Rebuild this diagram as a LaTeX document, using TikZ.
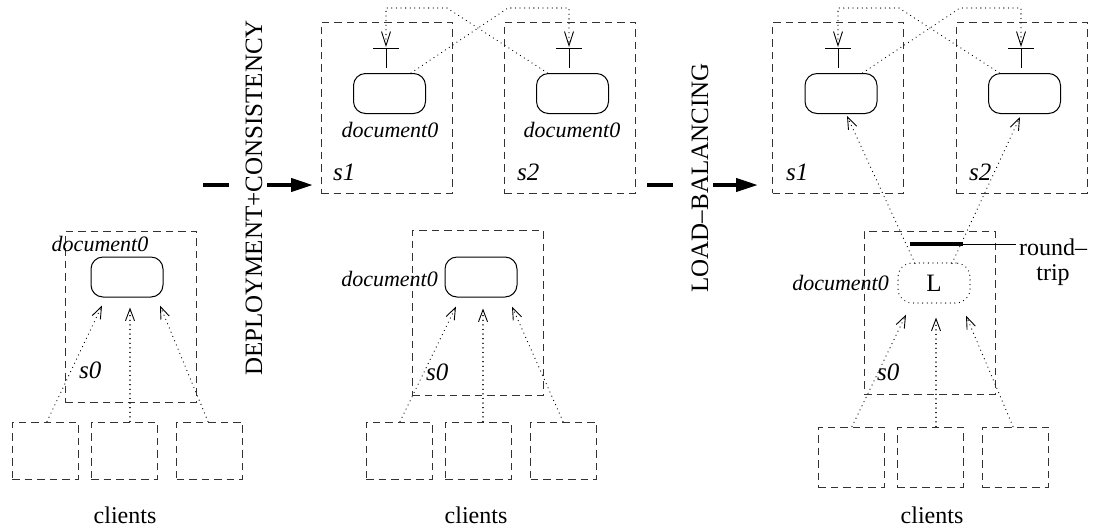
\documentclass[tikz,border=0pt]{standalone}
\usepackage{fontspec}
\setmainfont{Liberation Serif}
\usetikzlibrary{arrows.meta,calc}
\newcommand\myfs[1]{\fontsize{#1}{#1}\selectfont}
\begin{document}
\begin{tikzpicture}[x=1pt,y=-1pt,
  srv/.style={draw=black!80, line width=1pt, dash pattern=on 7.5pt off 5pt, inner sep=0pt, minimum width=131pt},
  cli/.style={draw=black!80, line width=1pt, dash pattern=on 7.5pt off 5pt, inner sep=0pt, minimum width=66pt},
  doc/.style={draw, line width=1pt, rounded corners=12pt, minimum width=72pt, minimum height=40pt, inner sep=0pt},
  lbox/.style={draw, line width=1.2pt, line cap=round, dash pattern=on 0.1pt off 4.5pt, rounded corners=14pt, minimum width=72pt, minimum height=40pt, inner sep=0pt, font=\myfs{25}},
  conn/.style={line width=1.2pt, line cap=round, dash pattern=on 0.1pt off 4.5pt, -{Straight Barb[length=12pt,width=9pt,line width=0.9pt,line cap=butt]}},
  cross/.style={line width=1.2pt, line cap=round, dash pattern=on 0.1pt off 4.5pt, -{Straight Barb[length=14pt,width=9pt,line width=0.9pt,line cap=butt]}},
  port/.style={line width=1pt},
  thickbar/.style={line width=4pt},
  bigarrow/.style={line width=4pt, -{Triangle[length=22pt,width=13pt]}},
  doclabel/.style={font=\myfs{22}\itshape, inner sep=0pt},
  slabel/.style={font=\myfs{25}\itshape, inner sep=0pt, anchor=base west},
  clilabel/.style={font=\myfs{24}, inner sep=0pt},
  steplabel/.style={font=\myfs{25}, inner sep=0pt, rotate=90}
]
\useasboundingbox (0,0) rectangle (1099,531);

% ================= Panel 1 =================
\node[srv, minimum height=171pt] (s0a) at (130.5,316.5) {};
\node[doc] (d0a) at (127,277) {};
\node[doclabel, anchor=base] (l0a) at (100,251) {document0};
\node[slabel] (n0a) at (79,378) {s0};
\node[cli, minimum height=57pt] (c1a) at (45,450.5) {};
\node[cli, minimum height=57pt] (c1b) at (124,450.5) {};
\node[cli, minimum height=57pt] (c1c) at (209.5,450.5) {};
\node[clilabel] (cl1) at (125,515) {clients};
\draw[conn] ([xshift=2pt]c1a.north) -- ([xshift=-25pt,yshift=-8pt]d0a.south);
\draw[conn] ([xshift=6pt]c1b.north) -- ([xshift=3pt,yshift=-10pt]d0a.south);
\draw[conn] ([xshift=-1.5pt]c1c.north) -- ([xshift=33pt,yshift=-8pt]d0a.south);

% transition 1
\coordinate (m1a) at (203,185);
\coordinate (m1b) at (229,185);
\coordinate (m1c) at (267,185);
\coordinate (m1d) at (313,185);
\draw[thickbar] (m1a) -- (m1b);
\draw[bigarrow] (m1c) -- (m1d);
\node[steplabel] (t1) at (254,198) {DEPLOYMENT+CONSISTENCY};

% ================= Panel 2 =================
\node[srv, minimum height=171pt] (s1b) at (386.5,107.5) {};
\node[srv, minimum height=171pt] (s2b) at (569.5,107.5) {};
\node[doc] (d1b) at (389.5,93.5) {};
\node[doc] (d2b) at (572.5,93.5) {};
\node[doclabel, anchor=base] (l1b) at (390,137) {document0};
\node[doclabel, anchor=base] (l2b) at (572,137) {document0};
\node[slabel] (n1b) at (333,180) {s1};
\node[slabel] (n2b) at (517,180) {s2};
\coordinate (p1b) at (386,48);
\coordinate (p2b) at (569,48);
\draw[port] ([xshift=-13pt]p1b) -- ([xshift=13pt]p1b);
\draw[port] (p1b) -- ([yshift=-20pt]p1b);
\draw[port] ([xshift=-13pt]p2b) -- ([xshift=13pt]p2b);
\draw[port] (p2b) -- ([yshift=-20pt]p2b);
\coordinate (kAb) at (508,8);
\coordinate (kBb) at (447,8);
\draw[cross] ([xshift=-15pt]d1b.north east) -- (kAb) -| ([yshift=1pt]p2b);
\draw[cross] ([xshift=11.5pt]d2b.north west) -- (kBb) -| ([yshift=1pt]p1b);

\node[srv, minimum height=165pt] (s0b) at (477.5,312.5) {};
\node[doc] (d0b) at (481,277) {};
\node[doclabel, anchor=east] (l0b) at (438,279) {document0};
\node[slabel] (n0b) at (426,380) {s0};
\node[cli, minimum height=57pt] (c2a) at (399,450.5) {};
\node[cli, minimum height=57pt] (c2b) at (478,450.5) {};
\node[cli, minimum height=57pt] (c2c) at (563.5,450.5) {};
\node[clilabel] (cl2) at (476,515) {clients};
\draw[conn] ([xshift=1pt]c2a.north) -- ([xshift=-25pt,yshift=-9pt]d0b.south);
\draw[conn] ([xshift=5pt]c2b.north) -- ([xshift=2pt,yshift=-11pt]d0b.south);
\draw[conn] ([xshift=-0.5pt]c2c.north) -- ([xshift=31pt,yshift=-9pt]d0b.south);

% transition 2
\coordinate (m2a) at (647,185);
\coordinate (m2b) at (673,185);
\coordinate (m2c) at (713,185);
\coordinate (m2d) at (758,185);
\draw[thickbar] (m2a) -- (m2b);
\draw[bigarrow] (m2c) -- (m2d);
\node[steplabel] (t2) at (700,178) {LOAD–BALANCING};

% ================= Panel 3 =================
\node[srv, minimum height=171pt] (s1c) at (838,107.5) {};
\node[srv, minimum height=171pt] (s2c) at (1021.5,107.5) {};
\node[doc] (d1c) at (841,93.5) {};
\node[doc] (d2c) at (1024.5,93.5) {};
\node[slabel] (n1c) at (786,180) {s1};
\node[slabel] (n2c) at (969,180) {s2};
\coordinate (p1c) at (838,48);
\coordinate (p2c) at (1021,48);
\draw[port] ([xshift=-13pt]p1c) -- ([xshift=13pt]p1c);
\draw[port] (p1c) -- ([yshift=-20pt]p1c);
\draw[port] ([xshift=-13pt]p2c) -- ([xshift=13pt]p2c);
\draw[port] (p2c) -- ([yshift=-20pt]p2c);
\coordinate (kAc) at (960,8);
\coordinate (kBc) at (899,8);
\draw[cross] ([xshift=-15pt]d1c.north east) -- (kAc) -| ([yshift=1pt]p2c);
\draw[cross] ([xshift=11.5pt]d2c.north west) -- (kBc) -| ([yshift=1pt]p1c);

\node[srv, minimum height=163pt] (s0c) at (929.5,312.5) {};
\node[lbox] (lb) at (934,283) {L};
\node[doclabel, anchor=east] (l0c) at (889,283) {document0};
\node[slabel] (n0c) at (877,380) {s0};
\draw[conn] ([xshift=-19pt,yshift=-1pt]lb.north) -- ([xshift=6pt,yshift=-2pt]d1c.south);
\draw[conn] ([xshift=18pt,yshift=-1pt]lb.north) -- ([xshift=-4.5pt,yshift=-3pt]d2c.south);
\coordinate (rt1) at (910,244);
\coordinate (rt2) at (963,244);
\coordinate (rt3) at (1016,244);
\draw[thickbar] (rt1) -- (rt2);
\draw[port] (rt2) -- (rt3);
\node[font=\fontsize{24}{25}\selectfont, align=center, inner sep=0pt] (rt) at (1053,262) {round–\\trip};
\node[cli, minimum height=60pt] (c3a) at (851,457) {};
\node[cli, minimum height=60pt] (c3b) at (930,457) {};
\node[cli, minimum height=60pt] (c3c) at (1015,457) {};
\node[clilabel] (cl3) at (932,515) {clients};
\draw[conn] ([xshift=1pt]c3a.north) -- ([xshift=-28pt,yshift=-11pt]lb.south);
\draw[conn] ([xshift=6pt]c3b.north) -- ([xshift=2pt,yshift=-14pt]lb.south);
\draw[conn] ([xshift=-2pt]c3c.north) -- ([xshift=32pt,yshift=-12pt]lb.south);
\end{tikzpicture}
\end{document}
